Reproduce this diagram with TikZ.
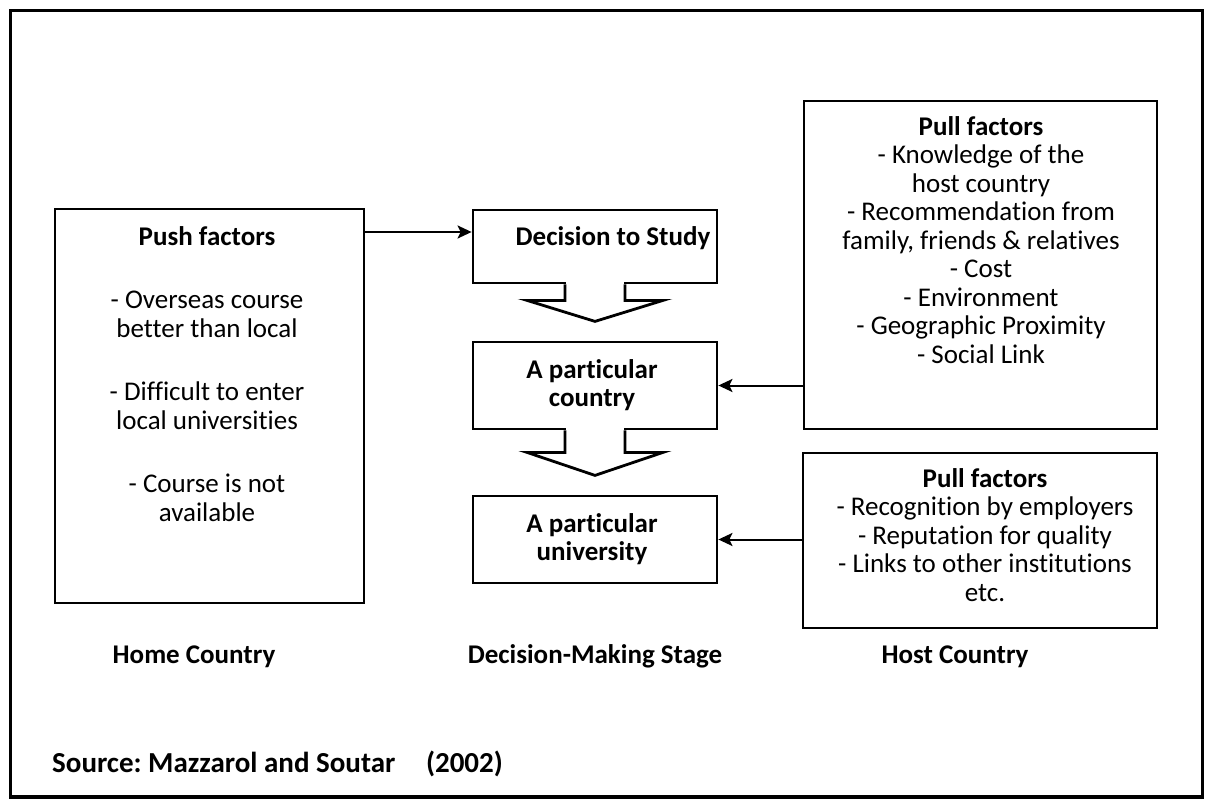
\documentclass[tikz,border=0pt]{standalone}
\usepackage{fontspec}
\setmainfont{Carlito}[Ligatures=NoCommon]
\usetikzlibrary{arrows.meta}
\frenchspacing

\begin{document}
\begin{tikzpicture}[x=1pt,y=-1pt,
    box/.style={draw,line width=2.8pt,inner sep=0pt},
    txt/.style={font=\fontsize{27}{28.5}\selectfont,align=center,inner sep=0pt,anchor=north},
    lbl/.style={font=\fontsize{27}{28.5}\selectfont\bfseries,inner sep=0pt,anchor=base},
    conn/.style={line width=2pt,-{Stealth[length=14pt,width=13pt,inset=3pt]}}]
    \useasboundingbox (0,0) rectangle (1208,800);
    \draw[line width=3.2pt] (10.5,10.5) rectangle (1202.5,797);

    % boxes
    \node[box,minimum width=309pt,minimum height=394pt] (push) at (209.5,406) {};
    \node[box,minimum width=244pt,minimum height=73pt] (study) at (595,246.5) {};
    \node[box,minimum width=244pt,minimum height=87pt] (country) at (595,385.5) {};
    \node[box,minimum width=244pt,minimum height=87pt] (univ) at (595,539.5) {};
    \node[box,minimum width=353pt,minimum height=328pt] (pullA) at (980.5,265) {};
    \node[box,minimum width=354pt,minimum height=175pt] (pullB) at (980,540.5) {};

    % down arrows between the stages
    \fill[white] ([xshift=-28.6pt,yshift=2pt]study.south) rectangle ([xshift=28.6pt,yshift=-2pt]study.south);
    \draw[line width=2.8pt,line join=miter] ([xshift=-30pt]study.south) -- ++(0,16) -- ++(-38,0)
        -- ++(68,21) -- ++(68,-21) -- ++(-38,0) -- ++(0,-16);
    \fill[white] ([xshift=-28.6pt,yshift=2pt]country.south) rectangle ([xshift=28.6pt,yshift=-2pt]country.south);
    \draw[line width=2.8pt,line join=miter] ([xshift=-30pt]country.south) -- ++(0,22) -- ++(-38,0)
        -- ++(68,23) -- ++(68,-23) -- ++(-38,0) -- ++(0,-22);

    % texts
    \node[txt] (pushtxt) at (207,225) {\strut\textbf{Push factors}\\[35pt]
        - Overseas course\\better than local\\[35pt]
        - Difficult to enter\\local universities\\[35pt]
        - Course is not\\available};
    \node[txt,font=\fontsize{27}{28.5}\selectfont\bfseries] (studytxt) at (613,225) {\strut Decision to Study};
    \node[txt,font=\fontsize{27}{28.5}\selectfont\bfseries] (countrytxt) at (592,358) {\strut A particular\\country};
    \node[txt,font=\fontsize{27}{28.5}\selectfont\bfseries] (univtxt) at (592,512) {\strut A particular\\university};
    \node[txt] (pullAtxt) at (981,115) {\strut\textbf{Pull factors}\\- Knowledge of the\\host country\\
        - Recommendation from\\family, friends \& relatives\\- Cost\\- Environment\\
        - Geographic Proximity\\- Social Link};
    \node[txt] (pullBtxt) at (985,467) {\strut\textbf{Pull factors}\\- Recognition by employers\\
        - Reputation for quality\\- Links to other institutions\\etc.};

    % column labels
    \node[lbl] (home) at (194,663) {Home Country};
    \node[lbl] (stage) at (595,663) {Decision-Making Stage};
    \node[lbl] (host) at (955,663) {Host Country};
    \node[lbl,anchor=base west,font=\fontsize{29}{30}\selectfont\bfseries] (source) at (52,772)
        {Source: Mazzarol and Soutar\hspace{24pt} (2002)};

    % connectors
    \coordinate (studyin) at ([yshift=14.5pt]study.west);
    \draw[conn] (push.east |- studyin) -- (studyin);
    \draw[conn] (pullA.west |- country.east) -- (country.east);
    \draw[conn] (pullB.west |- univ.east) -- (univ.east);
\end{tikzpicture}
\end{document}
